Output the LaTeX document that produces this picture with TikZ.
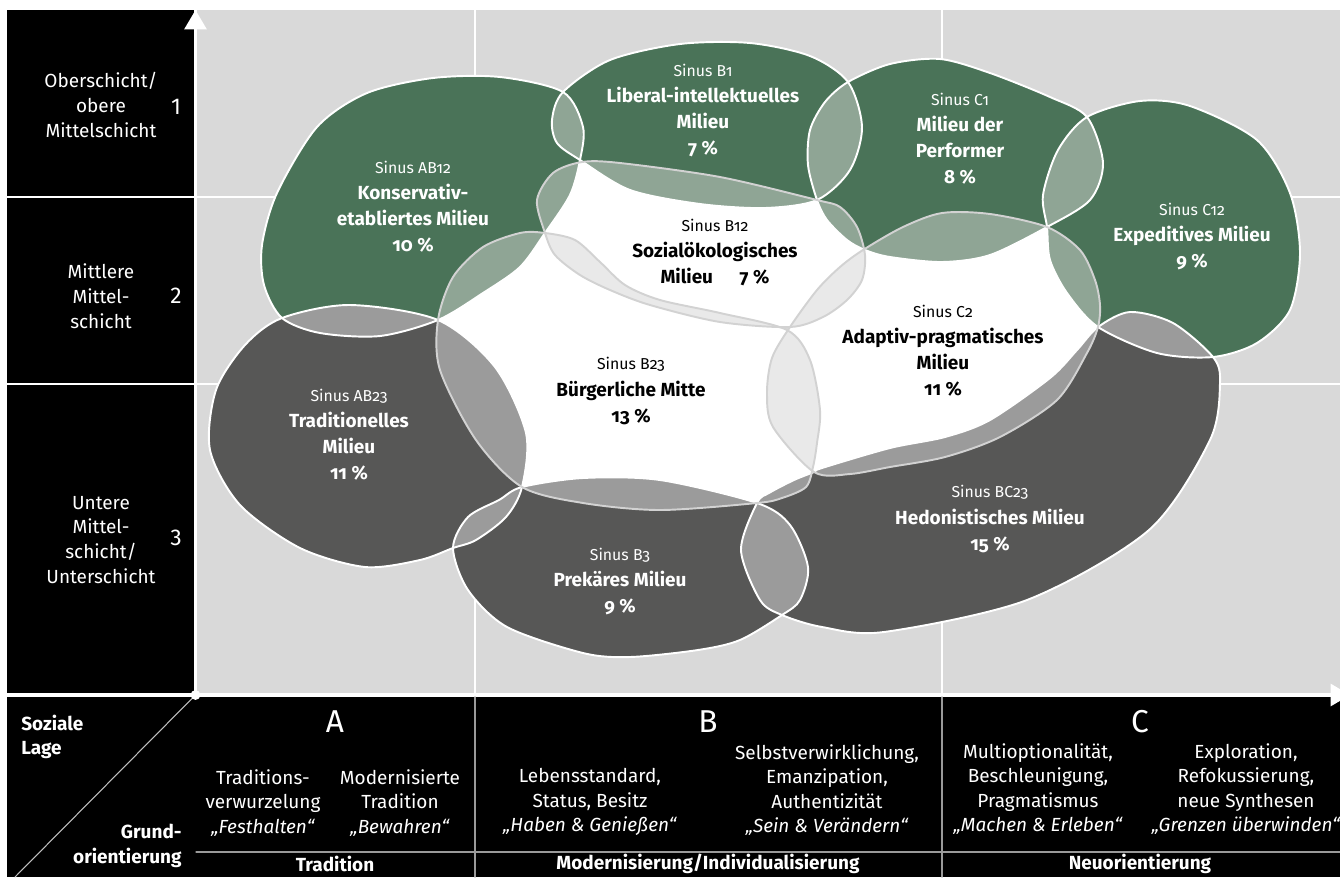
\documentclass[tikz,border=0pt]{standalone}
\usepackage{fontspec}
\setmainfont{Fira Sans}[Numbers=OldStyle]
\newfontfamily\liningfont{Fira Sans}[Numbers=Lining]
\usetikzlibrary{arrows.meta}

\definecolor{milgreen}{HTML}{4A7358}
\definecolor{mildark}{HTML}{575756}
\definecolor{lapgreen}{HTML}{8FA595}
\definecolor{lapdark}{HTML}{9B9B9B}
\definecolor{lapwhite}{HTML}{E9E9E9}
\definecolor{bggrey}{HTML}{D9D9D9}
\definecolor{rimgrey}{HTML}{D2D2D2}
\definecolor{footgrey}{HTML}{9A9A9A}

% blob outlines (pixel grid, y downwards)
\newcommand\pKons{plot[smooth cycle] coordinates {(563,92) (583,127) (580,160) (570,195) (545,233) (520,267) (483,293) (438,320) (380,336) (320,333) (282,318) (264,285) (262,245) (277,193) (317,127) (367,93) (433,78) (500,77)}}
\newcommand\pLib{plot[smooth cycle] coordinates {(580,160) (557,143) (552,120) (563,92) (610,60) (680,44) (750,43) (810,56) (848,82) (862,127) (850,170) (817,200) (765,208) (700,204) (630,190)}}
\newcommand\pPerf{plot[smooth cycle] coordinates {(817,200) (808,165) (810,130) (825,102) (848,82) (890,64) (940,59) (990,73) (1050,97) (1087,117) (1103,163) (1090,200) (1047,227) (990,255) (942,262) (890,257) (865,250) (847,240) (827,220)}}
\newcommand\pExp{plot[smooth cycle] coordinates {(1087,117) (1140,101) (1190,106) (1257,140) (1290,193) (1300,253) (1290,310) (1257,343) (1213,357) (1157,353) (1098,327) (1067,293) (1050,260) (1047,227) (1043,195) (1058,150)}}
\newcommand\pSoz{plot[smooth cycle] coordinates {(582,162) (620,163) (720,177) (817,200) (840,207) (857,227) (865,255) (862,280) (847,300) (823,317) (790,327) (720,322) (650,305) (610,290) (580,275) (555,255) (545,233) (537,200) (553,173)}}
\newcommand\pBuerg{plot[smooth cycle] coordinates {(438,320) (453,277) (483,247) (520,233) (545,233) (575,240) (600,262) (625,285) (660,300) (720,313) (787,330) (810,360) (820,410) (817,443) (813,467) (806,487) (782,498) (757,503) (660,510) (583,503) (522,487) (476,440) (440,370)}}
\newcommand\pAdapt{plot[smooth cycle] coordinates {(863,250) (903,227) (942,213) (990,214) (1047,227) (1080,250) (1095,280) (1100,305) (1098,327) (1087,353) (1057,400) (1000,437) (945,457) (890,467) (850,474) (814,472) (773,427) (767,393) (772,358) (790,327) (817,290) (840,267)}}
\newcommand\pTrad{plot[smooth cycle] coordinates {(282,318) (350,305) (438,320) (495,367) (526,433) (522,487) (506,517) (476,540) (453,548) (420,560) (365,567) (300,548) (240,505) (210,450) (216,390) (245,345)}}
\newcommand\pPrek{plot[smooth cycle] coordinates {(453,548) (468,517) (499,500) (522,487) (583,478) (660,480) (757,503) (790,525) (808,567) (800,600) (782,615) (740,640) (698,650) (630,657) (583,653) (507,627) (468,590)}}
\newcommand\pHed{plot[smooth cycle] coordinates {(757,503) (769,493) (794,480) (814,472) (822,468) (890,448) (945,437) (990,420) (1050,378) (1077,350) (1098,327) (1130,312) (1173,323) (1213,357) (1220,383) (1210,440) (1149,530) (1027,600) (884,632) (822,627) (782,615) (760,600) (741,550)}}

\newcommand\lapfill[3]{\begin{scope}\clip #1; \fill[#3] #2; \end{scope}}
\newcommand\sinus[1]{{\mdseries\fontsize{9}{14.8}\selectfont Sinus #1}}

\tikzset{
  rim/.style={draw=white,line width=1.1pt},
  rimw/.style={draw=rimgrey,line width=1.1pt},
  grid/.style={draw=white,line width=0.8pt},
  footline/.style={draw=footgrey,line width=0.7pt},
  axis/.style={draw=white,line width=1.6pt,-{Triangle[width=12.5pt,length=11pt]}},
  lbl/.style={align=center,inner sep=0pt,font=\fontsize{10.8}{14.8}\selectfont\bfseries},
  side/.style={align=center,inner sep=0pt,text=white,font=\fontsize{10.8}{14.2}\selectfont},
  sidenr/.style={inner sep=0pt,text=white,font=\fontsize{13}{14}\selectfont\liningfont},
  foot/.style={align=center,inner sep=0pt,text=white,font=\fontsize{10.8}{14}\selectfont},
  footbold/.style={foot,font=\fontsize{10.8}{14}\selectfont\bfseries},
  letter/.style={inner sep=0pt,text=white,font=\fontsize{18}{20}\selectfont}
}

\begin{document}
\begin{tikzpicture}[x=0.02cm,y=-0.02cm,line join=round,line cap=round]
	\useasboundingbox (0,0) rectangle (1340,877);
	\fill[white] (0,0) rectangle (1340,877);
	
	\coordinate (origin) at (195.5,695);
	\coordinate (ytop) at (195.5,10);
	\coordinate (xend) at (1350,695);
	\coordinate (diagend) at (15,877);
	
	% panels
	\fill[bggrey] (197,10) rectangle (1340,693);
	\fill[black] (7,10) rectangle (194,693);
	\fill[black] (7,697) rectangle (1340,877);
	
	\foreach \gx in {475,942} \draw[grid] (\gx,10) -- (\gx,693);
	\foreach \gy in {197,384} \draw[grid] (7,\gy) -- (1340,\gy);
	\foreach \gx in {475,942} \draw[footline] (\gx,697) -- (\gx,877);
	\draw[footline] (196,852) -- (1340,852);
	\draw[draw=white!75!black,line width=0.6pt] (origin) -- (diagend);
	
	% milieus
	\fill[milgreen] \pKons;
	\fill[milgreen] \pLib;
	\fill[milgreen] \pPerf;
	\fill[milgreen] \pExp;
	\fill[mildark] \pTrad;
	\fill[mildark] \pPrek;
	\fill[mildark] \pHed;
	\fill[white] \pSoz;
	\fill[white] \pBuerg;
	\fill[white] \pAdapt;
	
	% overlaps
	\lapfill{\pKons}{\pLib}{lapgreen}
	\lapfill{\pKons}{\pSoz}{lapgreen}
	\lapfill{\pKons}{\pBuerg}{lapgreen}
	\lapfill{\pLib}{\pSoz}{lapgreen}
	\lapfill{\pLib}{\pPerf}{lapgreen}
	\lapfill{\pPerf}{\pSoz}{lapgreen}
	\lapfill{\pPerf}{\pAdapt}{lapgreen}
	\lapfill{\pPerf}{\pExp}{lapgreen}
	\lapfill{\pExp}{\pAdapt}{lapgreen}
	\lapfill{\pKons}{\pTrad}{lapdark}
	\lapfill{\pExp}{\pHed}{lapdark}
	\lapfill{\pTrad}{\pBuerg}{lapdark}
	\lapfill{\pTrad}{\pPrek}{lapdark}
	\lapfill{\pBuerg}{\pPrek}{lapdark}
	\lapfill{\pBuerg}{\pHed}{lapdark}
	\lapfill{\pAdapt}{\pHed}{lapdark}
	\lapfill{\pPrek}{\pHed}{lapdark}
	\lapfill{\pSoz}{\pBuerg}{lapwhite}
	\lapfill{\pSoz}{\pAdapt}{lapwhite}
	\lapfill{\pBuerg}{\pAdapt}{lapwhite}
	
	\draw[rim] \pKons; \draw[rim] \pLib; \draw[rim] \pPerf; \draw[rim] \pExp;
	\draw[rim] \pTrad; \draw[rim] \pPrek; \draw[rim] \pHed;
	\draw[rimw] \pSoz; \draw[rimw] \pBuerg; \draw[rimw] \pAdapt;
	
	% axes
	\draw[axis] (origin) -- (ytop);
	\draw[axis] (origin) -- (xend);
	\fill[white] (origin) circle[radius=2.8pt];
	
	% milieu labels
	\node[lbl,text=white] (tKons) at (413,207) {\sinus{AB12}\\Konservativ-\\etabliertes Milieu\\10~\%};
	\node[lbl,text=white] (tLib) at (703,111) {\sinus{B1}\\Liberal-intellektuelles\\Milieu\\7~\%};
	\node[lbl,text=white] (tPerf) at (960,139) {\sinus{C1}\\Milieu der\\Performer\\8~\%};
	\node[lbl,text=white] (tExp) at (1192,237) {\sinus{C12}\\Expeditives Milieu\\9~\%};
	\node[lbl] (tSoz) at (715,253) {\sinus{B12}\\Sozialökologisches\\Milieu\hspace{1.4em}7~\%};
	\node[lbl] (tBuerg) at (631,391) {\sinus{B23}\\Bürgerliche Mitte\\13~\%};
	\node[lbl] (tAdapt) at (943,351) {\sinus{C2}\\Adaptiv-pragmatisches\\Milieu\\11~\%};
	\node[lbl,text=white] (tTrad) at (349,435) {\sinus{AB23}\\Traditionelles\\Milieu\\11~\%};
	\node[lbl,text=white] (tPrek) at (620,582) {\sinus{B3}\\Prekäres Milieu\\9~\%};
	\node[lbl,text=white] (tHed) at (990,519) {\sinus{BC23}\\Hedonistisches Milieu\\15~\%};
	
	% soziale Lage
	\node[side] (schicht1) at (101,105) {Oberschicht/\\obere\\Mittelschicht};
	\node[sidenr] (nr1) at (176,107) {1};
	\node[side] (schicht2) at (101,296) {Mittlere\\Mittel-\\schicht};
	\node[sidenr] (nr2) at (176,296) {2};
	\node[side] (schicht3) at (101,540) {Untere\\Mittel-\\schicht/\\Unterschicht};
	\node[sidenr] (nr3) at (176,538) {3};
	
	% Grundorientierung
	\node[footbold,anchor=west,align=left] (lage) at (21,737) {Soziale\\Lage};
	\node[footbold,anchor=east,align=right] (grund) at (182,846) {Grund-\\orientierung};
	\node[letter] (colA) at (335,722) {A};
	\node[letter] (colB) at (708,722) {B};
	\node[letter] (colC) at (1140,722) {C};
	\node[foot] (a1) at (263,803) {Traditions-\\verwurzelung\\\textit{„Festhalten“}};
	\node[foot] (a2) at (400,803) {Modernisierte\\Tradition\\\textit{„Bewahren“}};
	\node[foot] (b1) at (590,802) {Lebensstandard,\\Status, Besitz\\\textit{„Haben \& Genießen“}};
	\node[foot] (b2) at (827,790) {Selbstverwirklichung,\\Emanzipation,\\Authentizität\\\textit{„Sein \& Verändern“}};
	\node[foot] (c1) at (1038,789) {Multioptionalität,\\Beschleunigung,\\Pragmatismus\\\textit{„Machen \& Erleben“}};
	\node[foot] (c2) at (1246,789) {Exploration,\\Refokussierung,\\neue Synthesen\\\textit{„Grenzen überwinden“}};
	\node[footbold] (tradA) at (335,864) {Tradition};
	\node[footbold] (modB) at (708,864) {Modernisierung/Individualisierung};
	\node[footbold] (neuC) at (1140,864) {Neuorientierung};
\end{tikzpicture}
\end{document}
